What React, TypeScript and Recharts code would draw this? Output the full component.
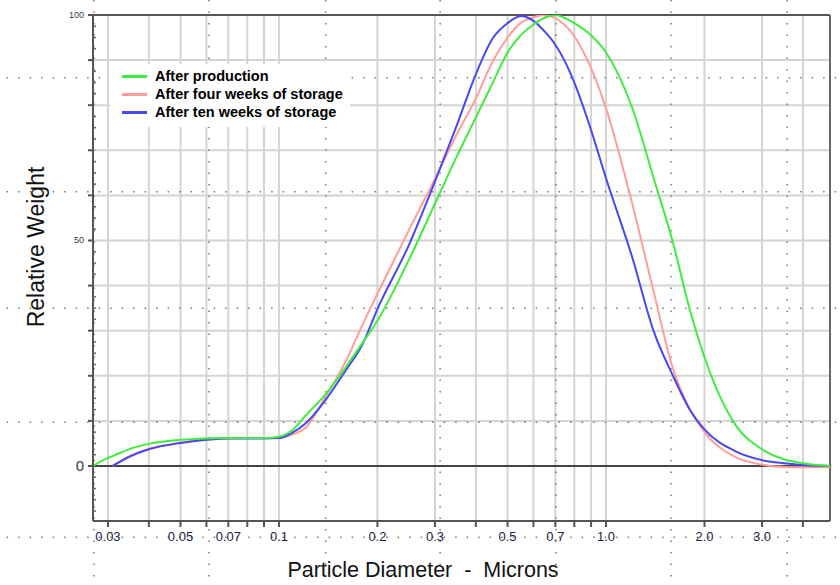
import { LineChart, Line, XAxis, YAxis, CartesianGrid, ReferenceLine, Legend, Customized } from "recharts";

// Particle size distribution.
// Diameters in microns (log axis), weights relative to each curve's peak.
const diameters = [
  0.027, 0.03, 0.031, 0.035, 0.04, 0.05, 0.06, 0.07, 0.08, 0.09, 0.1, 0.11, 0.12, 0.14, 0.16, 0.18, 0.2,
  0.25, 0.3, 0.35, 0.4, 0.45, 0.5, 0.55, 0.6, 0.65, 0.7, 0.75, 0.8, 0.9, 1.0, 1.2, 1.4, 1.6, 1.8, 2.0,
  2.5, 3.0, 3.5, 4.0, 4.84,
];
const afterProduction = [
  0, 1.8, 2.2, 3.8, 4.9, 5.8, 6.1, 6.2, 6.2, 6.2, 6.5, 8.0, 11.0, 16.2, 21.9, 27.3, 32.2,
  45.8, 58.2, 68.7, 77.3, 84.9, 91.7, 95.6, 97.9, 99.4, 100, 99.3, 98.2, 95.5, 91.7, 79.6, 63.7, 49.7, 34.9, 24.1,
  8.9, 3.7, 1.5, 0.6, 0,
];
const afterFourWeeks = [
  null, null, 0, 2.2, 3.8, 5.2, 5.9, 6.1, 6.2, 6.2, 6.2, 7.0, 8.3, 15.8, 23.2, 31.3, 38.2,
  52.4, 63.7, 73.6, 81.5, 89.7, 95.0, 98.3, 99.5, 100, 99.3, 97.7, 95.3, 88.2, 79.3, 58.4, 38.5, 21.7, 12.7, 7.5,
  1.9, 0.3, -0.2, -0.3, -0.3,
];
const afterTenWeeks = [
  null, null, 0, 2.1, 3.7, 5.1, 5.8, 6.1, 6.1, 6.1, 6.2, 7.4, 9.3, 15.0, 21.2, 27.0, 34.8,
  49.1, 63.1, 75.6, 86.9, 94.8, 98.2, 99.8, 98.7, 96.3, 93.4, 89.6, 85.0, 74.5, 63.8, 46.5, 29.8, 20.1, 12.6, 8.1,
  3.2, 1.3, 0.6, 0.2, 0,
];

const xTicks = [0.03, 0.04, 0.05, 0.06, 0.07, 0.08, 0.09, 0.1, 0.2, 0.3, 0.4, 0.5, 0.6, 0.7, 0.8, 0.9, 1, 2, 3, 4];
const xTickLabels: Record<string, string> = {
  "0.03": "0.03", "0.05": "0.05", "0.07": "0.07", "0.1": "0.1", "0.2": "0.2", "0.3": "0.3",
  "0.5": "0.5", "0.7": "0.7", "1": "1.0", "2": "2.0", "3": "3.0",
};
const yMajorTicks = [0, 10, 20, 30, 40, 50, 60, 70, 80, 90, 100];
const yMinorTicks = [-10, -7.5, -5, -2.5].concat(
  yMajorTicks.slice(0, -1).flatMap((t) => [t + 2.5, t + 5, t + 7.5])
);
const yTickLabels: Record<string, string> = { "0": "0", "50": "50", "100": "100" };
const gridRows = [10, 20, 30, 40, 50, 60, 70, 80, 90];

// dotted guide grid printed on the scanned page, in data units
const dotRows = [86.1, 60.8, 35.0, 9.7, -15.8];
const dotCols = [0.0272, 0.0611, 0.139, 0.311, 0.703, 1.58, 3.58];

const series = [
  { key: "production", name: "After production", color: "#3fec3f" },
  { key: "fourWeeks", name: "After four weeks of storage", color: "#ff9c9c" },
  { key: "tenWeeks", name: "After ten weeks of storage", color: "#4848f2" },
];

const rows = diameters.map((d, i) => ({
  d,
  production: afterProduction[i],
  fourWeeks: afterFourWeeks[i],
  tenWeeks: afterTenWeeks[i],
}));

const FONT = "'Liberation Sans', Arial, sans-serif";
const X_MIN = 0.027;
const X_MAX = 4.84;

const XTick = ({ x, y, payload }: any) => {
  const label = xTickLabels[String(payload.value)];
  return (
    <g>
      <line x1={x} y1={y} x2={x} y2={y + 6} stroke="#555" strokeWidth={2} />
      {label && (
        <text x={x} y={y + 20} textAnchor="middle" fontSize={13} fill="#1e2044" fontFamily={FONT}>
          {label}
        </text>
      )}
    </g>
  );
};

const YTick = ({ x, y, payload }: any) => {
  const v = payload.value;
  const major = yMajorTicks.includes(v);
  const label = yTickLabels[String(v)];
  return (
    <g>
      {major ? (
        <line x1={x - 5} y1={y} x2={x} y2={y} stroke="#555" strokeWidth={2} />
      ) : (
        <line x1={x} y1={y} x2={x + 3} y2={y} stroke="#666" strokeWidth={1.5} />
      )}
      {label && (
        <text
          x={x - 9}
          y={y}
          dy={v === 0 ? 5 : 3}
          textAnchor="end"
          fontSize={v === 0 ? 15 : 9}
          fill="#333a55"
          fontFamily={FONT}
        >
          {label}
        </text>
      )}
    </g>
  );
};

const LegendBox = () => (
  <div style={{ background: "#fff", padding: "3px 0 6px 12px", fontFamily: FONT }}>
    {series.map((s) => (
      <div key={s.key} style={{ display: "flex", alignItems: "center", height: 18 }}>
        <span style={{ display: "inline-block", width: 25, height: 3, background: s.color, marginRight: 8 }} />
        <span style={{ fontSize: 14.5, fontWeight: 700, color: "#000" }}>{s.name}</span>
      </div>
    ))}
  </div>
);

const AxisTitles = () => (
  <g fontFamily={FONT} fill="#111">
    <text x={423} y={577} textAnchor="middle" style={{ fontSize: 21.5 }}>
      {"Particle Diameter \u00a0-\u00a0 Microns"}
    </text>
    <text x={0} y={0} transform="translate(44, 247) rotate(-90)" textAnchor="middle" style={{ fontSize: 23 }}>
      Relative Weight
    </text>
  </g>
);

export default function App() {
  return (
    <div style={{ position: "absolute", left: 0, top: 0, background: "#fff" }}>
      <LineChart width={840} height={585} data={rows} margin={{ top: 15, right: 10, bottom: 24, left: 53 }}>
        <CartesianGrid stroke="#d4d4d4" strokeWidth={2} horizontalValues={gridRows} verticalValues={xTicks} />
        <XAxis
          dataKey="d"
          type="number"
          scale="log"
          domain={[X_MIN, X_MAX]}
          allowDataOverflow
          ticks={xTicks}
          interval={0}
          height={40}
          tickSize={0}
          tickMargin={0}
          tickLine={false}
          tick={(p: any) => <XTick {...p} />}
          axisLine={{ stroke: "#555", strokeWidth: 2 }}
        />
        <YAxis
          type="number"
          domain={[-12.2, 100]}
          allowDataOverflow
          ticks={[...yMajorTicks, ...yMinorTicks].sort((a, b) => a - b)}
          interval={0}
          width={40}
          tickSize={0}
          tickMargin={0}
          tickLine={false}
          tick={(p: any) => <YTick {...p} />}
          axisLine={{ stroke: "#555", strokeWidth: 2 }}
        />
        <ReferenceLine y={100} stroke="#555" strokeWidth={2} />
        <ReferenceLine y={0} stroke="#444" strokeWidth={2} />
        <ReferenceLine x={X_MAX} stroke="#666" strokeWidth={2} />
        {dotRows.map((v) => (
          <ReferenceLine
            key={`r${v}`}
            segment={[{ x: 0.0147, y: v }, { x: 5.3, y: v }]}
            ifOverflow="visible"
            stroke="#777"
            strokeWidth={1.5}
            strokeDasharray="1.5 10"
          />
        ))}
        {dotCols.map((d) => (
          <ReferenceLine
            key={`c${d}`}
            segment={[{ x: d, y: 103.3 }, { x: d, y: -26.5 }]}
            ifOverflow="visible"
            stroke="#777"
            strokeWidth={1.5}
            strokeDasharray="1.5 10"
          />
        ))}
        <Line dataKey="fourWeeks" stroke="#ff9c9c" strokeWidth={2} type="monotone" dot={false} isAnimationActive={false} />
        <Line dataKey="tenWeeks" stroke="#4848f2" strokeWidth={2} type="monotone" dot={false} isAnimationActive={false} />
        <Line dataKey="production" stroke="#3fec3f" strokeWidth={2} type="monotone" dot={false} isAnimationActive={false} />
        <Legend
          layout="vertical"
          align="center"
          verticalAlign="middle"
          wrapperStyle={{ left: 110, top: 64, width: 240 }}
          content={() => <LegendBox />}
        />
        <Customized component={AxisTitles} />
      </LineChart>
    </div>
  );
}
